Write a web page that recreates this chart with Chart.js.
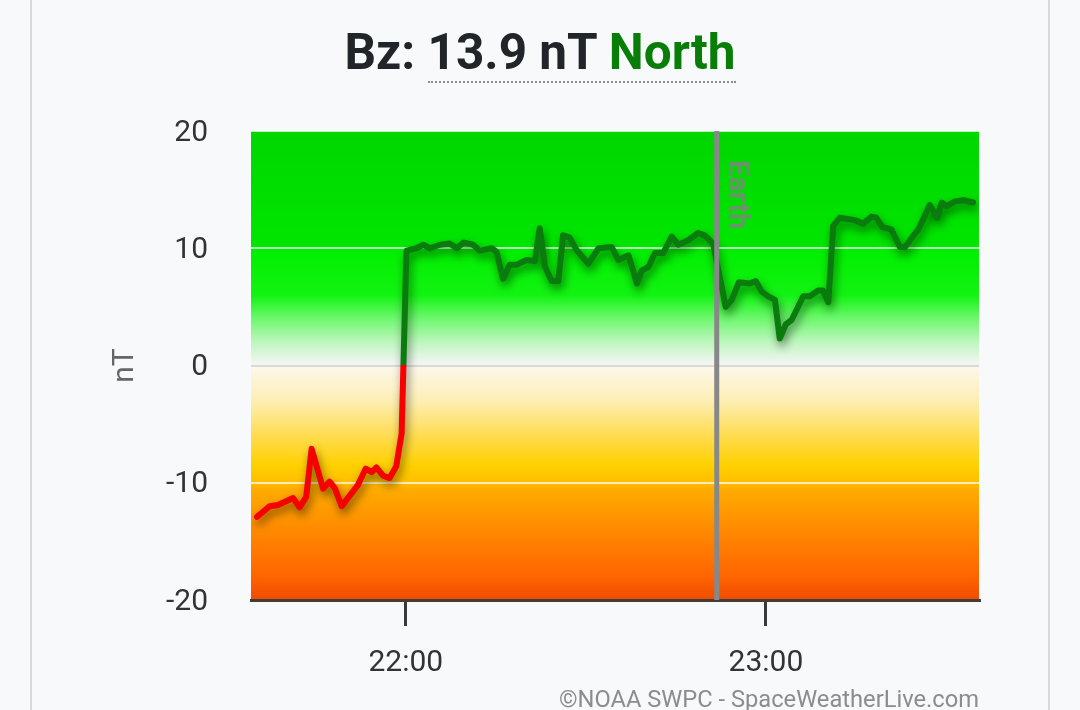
<!DOCTYPE html>
<html lang="en">
<head>
    <meta charset="UTF-8">
    <meta name="viewport" content="width=device-width, initial-scale=1.0">
    <script src="https://cdn.jsdelivr.net/npm/chart.js"></script>
    <title>Bz</title>

    <style>
        html, body {
            margin: 0;
            padding: 0;
        }
        body {
            width: 1080px;
            height: 710px;
            background: #f8f9fa;
            overflow: hidden;
            position: relative;
            font-family: Roboto, sans-serif;
        }
        .card {
            position: absolute;
            left: 30px;
            top: -2px;
            width: 1016px;
            height: 720px;
            border-left: 2px solid #d9dadc;
            border-right: 2px solid #d9dadc;
        }
        #title {
            position: absolute;
            left: 0;
            top: 27px;
            width: 1080px;
            text-align: center;
            font: bold 49.5px/50px Roboto, sans-serif;
            color: #212529;
        }
        #title .val {
            border-bottom: 2px dotted #8c8c8c;
        }
        #title .north {
            color: #087d08;
        }
        #chart-box {
            position: absolute;
            left: 0;
            top: 0;
            width: 1080px;
            height: 710px;
        }
        #credit {
            position: absolute;
            right: 101px;
            top: 684px;
            font: 23.7px/30px Roboto, sans-serif;
            color: #8c8c8c;
            white-space: nowrap;
        }
    </style>
</head>
<body>
    <div class="card"></div>
    <div id="chart-box"><canvas id="bz-chart"></canvas></div>
    <div id="title">Bz: <span class="val">13.9 nT <span class="north">North</span></span></div>
    <div id="credit">©NOAA SWPC - SpaceWeatherLive.com</div>

    <script>
        // minutes after 21:00 (UTC) and Bz in nT
        const minutes = [
            35.2, 37.3, 38.7, 41.2, 42.3, 43.4, 44.3, 46.2, 47.3, 48.2,
            49.3, 52.0, 53.3, 54.3, 55.1, 56.2, 57.3, 58.4, 59.3, 60.1,
            61.8, 62.9, 64.0, 65.7, 67.3, 68.5, 69.6, 71.2, 72.3, 74.3,
            75.1, 76.2, 77.3, 78.5, 80.1, 81.5, 82.3, 83.2, 84.3, 85.4,
            86.2, 87.3, 88.5, 90.4, 92.1, 94.3, 95.4, 97.1, 98.5, 99.3,
            100.4, 101.5, 102.9, 104.3, 105.4, 107.1, 108.7, 109.8, 111.2, 113.3,
            114.3, 115.5, 117.3, 118.3, 119.3, 120.4, 121.5, 122.3, 123.3, 124.3,
            126.2, 127.3, 128.7, 129.5, 130.4, 131.2, 132.3, 134.8, 136.2, 137.6,
            138.4, 139.4, 140.9, 142.3, 143.2, 144.6, 145.4, 147.3, 148.5, 149.3,
            150.1, 151.5, 152.9, 154.5
        ];
        const bz = [
            -12.9, -12.0, -11.9, -11.3, -12.1, -11.2, -7.1, -10.5, -9.9, -10.5,
            -12.0, -10.2, -8.8, -9.1, -8.7, -9.4, -9.6, -8.6, -5.8, 9.8,
            10.0, 10.3, 10.0, 10.3, 10.4, 10.0, 10.5, 10.3, 9.8, 10.0,
            9.7, 7.4, 8.6, 8.6, 9.0, 8.9, 11.7, 8.4, 7.2, 7.2,
            11.1, 10.9, 9.8, 8.7, 10.0, 10.1, 9.0, 9.4, 7.0, 8.1,
            8.4, 9.6, 9.6, 11.0, 10.3, 10.7, 11.3, 11.1, 10.4, 5.0,
            5.6, 7.1, 7.0, 7.2, 6.3, 5.9, 5.6, 2.3, 3.5, 3.9,
            5.9, 5.9, 6.4, 6.4, 5.4, 11.9, 12.6, 12.4, 12.1, 12.7,
            12.6, 11.8, 11.6, 10.1, 10.1, 11.1, 11.6, 13.7, 12.6, 13.9,
            13.6, 14.0, 14.1, 13.9
        ];
        const xTickMinutes = [60, 120];
        const xTickLabels = ['22:00', '23:00'];
        const xMin = 34.2;
        const xMax = 155.5;
        const earthMinute = 111.8;
        const earthLabel = 'Earth';

        const GREEN = '#097c0d';
        const RED = '#f70000';

        // colour zones behind the plot
        const zones = {
            id: 'zones',
            beforeDraw(chart) {
                const { ctx, chartArea: a, scales: { y } } = chart;
                const g = ctx.createLinearGradient(0, a.top, 0, a.bottom);
                const span = a.bottom - a.top;
                const stop = (v, c) => g.addColorStop((y.getPixelForValue(v) - a.top) / span, c);
                stop(20, '#00d600');
                stop(10.2, '#00e600');
                stop(9.8, '#00ef00');
                stop(6, '#12f312');
                stop(4, '#6ef76e');
                stop(2, '#bdf6bd');
                stop(0.2, '#f1f6f1');
                stop(-0.2, '#fcf7e9');
                stop(-3, '#fdeeb4');
                stop(-6, '#ffdc50');
                stop(-8.5, '#ffd000');
                stop(-10, '#ffbe00');
                stop(-10.5, '#ffac00');
                stop(-14, '#ff8a00');
                stop(-18, '#ff6400');
                stop(-20, '#ef4c00');
                ctx.save();
                ctx.fillStyle = g;
                ctx.fillRect(a.left, a.top, a.right - a.left, a.bottom - a.top);
                ctx.restore();
            }
        };

        // soft drop shadow under the line
        const lineShadow = {
            id: 'lineShadow',
            beforeDatasetDraw(chart) {
                const ctx = chart.ctx;
                ctx.save();
                ctx.shadowColor = 'rgba(0, 0, 0, 0.5)';
                ctx.shadowBlur = 10;
                ctx.shadowOffsetX = 2;
                ctx.shadowOffsetY = 5;
            },
            afterDatasetDraw(chart) {
                chart.ctx.restore();
            }
        };

        // vertical "Earth" marker
        const earthMarker = {
            id: 'earthMarker',
            afterDatasetsDraw(chart) {
                const { ctx, chartArea: a, scales: { x } } = chart;
                const px = x.getPixelForValue(earthMinute);
                ctx.save();
                ctx.strokeStyle = '#888888';
                ctx.lineWidth = 5;
                ctx.beginPath();
                ctx.moveTo(px, a.top);
                ctx.lineTo(px, a.bottom);
                ctx.stroke();
                ctx.translate(px + 12, a.top + 29);
                ctx.rotate(Math.PI / 2);
                ctx.fillStyle = 'rgba(130, 130, 130, 0.8)';
                ctx.font = 'bold 29px Roboto';
                ctx.textAlign = 'left';
                ctx.textBaseline = 'alphabetic';
                ctx.fillText(earthLabel, 0, 0);
                ctx.restore();
            }
        };

        function lineColor(context) {
            const { ctx, chartArea, scales } = context.chart;
            if (!chartArea) return GREEN;
            const y0 = scales.y.getPixelForValue(0);
            const f = (y0 - chartArea.top) / (chartArea.bottom - chartArea.top);
            const g = ctx.createLinearGradient(0, chartArea.top, 0, chartArea.bottom);
            g.addColorStop(0, GREEN);
            g.addColorStop(f, GREEN);
            g.addColorStop(f, RED);
            g.addColorStop(1, RED);
            return g;
        }

        const ctx = document.getElementById('bz-chart');

        const bzChart = new Chart(ctx, {
            type: 'line',
            data: {
                datasets: [{
                    label: 'Bz',
                    data: minutes.map((m, i) => ({ x: m, y: bz[i] })),
                    borderColor: lineColor,
                    borderWidth: 6,
                    borderJoinStyle: 'round',
                    borderCapStyle: 'round',
                    pointRadius: 0,
                    tension: 0,
                    fill: false
                }]
            },
            options: {
                responsive: true,
                maintainAspectRatio: false,
                animation: false,
                layout: {
                    padding: { left: 103, right: 101, top: 131, bottom: 30 }
                },
                plugins: {
                    legend: { display: false },
                    tooltip: { enabled: false }
                },
                scales: {
                    x: {
                        type: 'linear',
                        min: xMin,
                        max: xMax,
                        afterBuildTicks: (s) => {
                            s.ticks = xTickMinutes.map(v => ({ value: v }));
                        },
                        afterFit: (s) => { s.height = 80; },
                        ticks: {
                            callback: (v) => xTickLabels[xTickMinutes.indexOf(v)],
                            color: '#333333',
                            font: { family: 'Roboto', size: 30 },
                            padding: 19,
                            maxRotation: 0,
                            autoSkip: false
                        },
                        grid: {
                            drawOnChartArea: false,
                            drawTicks: true,
                            tickLength: 26,
                            color: '#3a3a3a',
                            lineWidth: 3
                        },
                        border: { display: true, color: '#453c36', width: 3 }
                    },
                    y: {
                        min: -20,
                        max: 20,
                        afterFit: (s) => { s.width = 148; },
                        ticks: {
                            stepSize: 10,
                            color: '#333333',
                            font: { family: 'Roboto', size: 30 },
                            padding: 43,
                            labelOffset: 2
                        },
                        grid: {
                            drawTicks: false,
                            color: (c) => c.tick.value === 0 ? 'rgba(205, 205, 205, 0.7)' : 'rgba(255, 255, 255, 0.7)',
                            lineWidth: 2
                        },
                        border: { display: false },
                        title: {
                            display: true,
                            text: 'nT',
                            color: '#666666',
                            font: { family: 'Roboto', size: 30 },
                            padding: { top: 4, bottom: 0 }
                        }
                    }
                }
            },
            plugins: [zones, lineShadow, earthMarker]
        });
    </script>
</body>
</html>
